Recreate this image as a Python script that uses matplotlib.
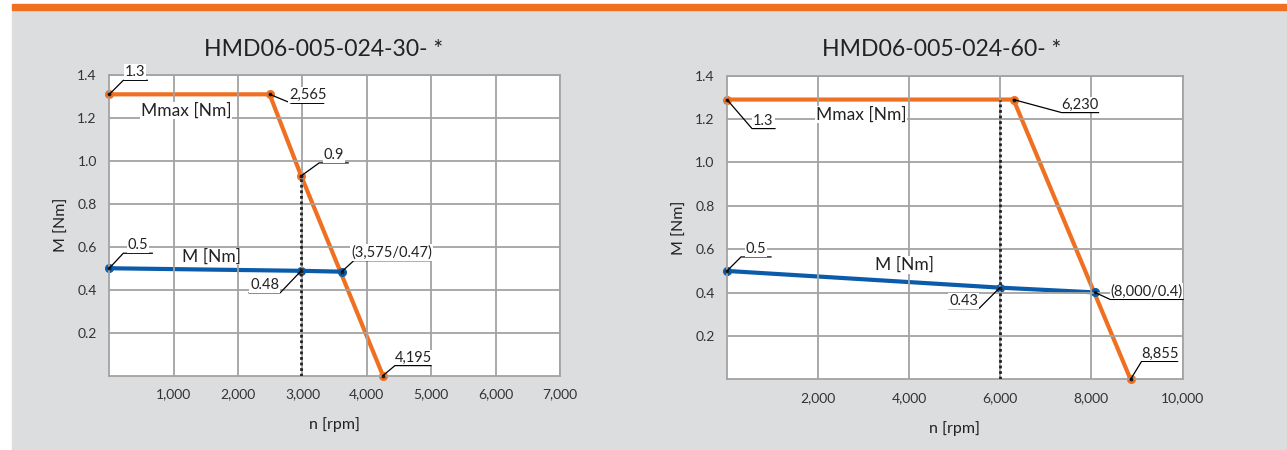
import matplotlib.pyplot as plt
import matplotlib.transforms as mtransforms
from matplotlib.lines import Line2D
from matplotlib.patches import Rectangle

plt.rcParams['font.family'] = ['Lato', 'DejaVu Sans']

# left chart: HMD06-005-024-30
title_l = "HMD06-005-024-30- *"
mmax_n_l = [0, 2490, 2980, 4250]
mmax_m_l = [1.31, 1.31, 0.93, 0.0]
m_n_l = [0, 2980, 3610]
m_m_l = [0.5, 0.488, 0.484]
xticks_l = [1000, 2000, 3000, 4000, 5000, 6000, 7000]
xtick_labels_l = ["1,000", "2,000", "3,000", "4,000", "5,000", "6,000", "7,000"]

# right chart: HMD06-005-024-60
title_r = "HMD06-005-024-60- *"
mmax_n_r = [0, 6290, 8860]
mmax_m_r = [1.29, 1.29, 0.0]
m_n_r = [0, 5990, 8080]
m_m_r = [0.5, 0.423, 0.401]
xticks_r = [2000, 4000, 6000, 8000, 10000]
xtick_labels_r = ["2,000", "4,000", "6,000", "8,000", "10,000"]

yticks = [0.2, 0.4, 0.6, 0.8, 1.0, 1.2, 1.4]
ytick_labels = ["0.2", "0.4", "0.6", "0.8", "1.0", "1.2", "1.4"]

ORANGE = '#f07022'
BLUE = '#0a5cab'
GRID = '#a3a3a3'
BG = '#dcdddf'

fig = plt.figure(figsize=(12.87, 4.5), dpi=100)
fig.patches.append(Rectangle((12 / 1287, 0), 1 - 12 / 1287, 440 / 450,
                             transform=fig.transFigure, color=BG, zorder=-10))
fig.patches.append(Rectangle((12 / 1287, 440 / 450), 1 - 12 / 1287, 6 / 450,
                             transform=fig.transFigure, color=ORANGE, zorder=-10))

ident = mtransforms.IdentityTransform()


def leader(ax, x, y, dx, dy, length, text):
    # leader line: point -> elbow -> horizontal underline, text on top
    px, py = ax.transData.transform((x, y))
    ex, ey = px + dx, py + dy
    fig.add_artist(Line2D([px, ex, ex + length], [py, ey, ey], transform=ident,
                          color='black', lw=0.9, zorder=6))
    fig.text(ex + length / 2, ey + 1, text, transform=ident, ha='center', va='bottom',
             fontsize=10.5, color='#222222', zorder=7,
             bbox=dict(facecolor='white', edgecolor='none', pad=0.6))


def setup(ax, xmax, xticks, xlabels, title, title_x):
    ax.set_xlim(0, xmax)
    ax.set_ylim(0, 1.4)
    ax.set_xticks(xticks)
    ax.set_xticklabels(xlabels)
    ax.set_yticks(yticks)
    ax.set_yticklabels(ytick_labels)
    ax.tick_params(length=0, labelsize=10, labelcolor='#333333', pad=9)
    ax.grid(True, color=GRID, lw=1.3, zorder=3)
    ax.set_axisbelow(False)
    for s in ax.spines.values():
        s.set_color(GRID)
        s.set_linewidth(1.3)
    ax.set_title(title, fontsize=16.6, color='#222222', pad=14, x=title_x)
    ax.set_xlabel("n [rpm]", fontsize=11.5, color='#222222', labelpad=12)
    ax.set_ylabel("M [Nm]", fontsize=11.5, color='#222222', labelpad=6)


def series(ax, n, m, color):
    ax.plot(n, m, color=color, lw=3, zorder=2, solid_capstyle='butt')
    ax.plot(n, m, 'o', color=color, ms=5.5, zorder=2, clip_on=False)
    ax.plot(n, m, 'o', color='#222222', ms=1.8, zorder=5, clip_on=False)


def series_label(ax, x, y, text):
    ax.text(x, y, text, ha='center', va='center', fontsize=12.5, color='#222222', zorder=6,
            bbox=dict(facecolor='white', edgecolor='none', pad=0.5))


# ---- left
axl = fig.add_axes([109.3 / 1287, 74.4 / 450, 450.7 / 1287, 300.6 / 450])
setup(axl, 7000, xticks_l, xtick_labels_l, title_l, 0.475)
axl.plot([mmax_n_l[2], mmax_n_l[2]], [0, mmax_m_l[2]], ls=(0, (1, 1)), color='#222222', lw=2, zorder=4)
series(axl, mmax_n_l, mmax_m_l, ORANGE)
series(axl, m_n_l, m_m_l, BLUE)
series_label(axl, 1190, 1.235, "Mmax [Nm]")
series_label(axl, 1590, 0.555, "M [Nm]")

leader(axl, mmax_n_l[0], mmax_m_l[0], 14, 14, 24, "1.3")
leader(axl, mmax_n_l[1], mmax_m_l[1], 22, -9, 32, "2,565")
leader(axl, mmax_n_l[2], mmax_m_l[2], 18, 13, 29, "0.9")
leader(axl, m_n_l[2], m_m_l[2], 12, 11, 76, "(3,575/0.47)")
leader(axl, m_n_l[1], m_m_l[1], -21, -22, -31, "0.48")
leader(axl, m_n_l[0], m_m_l[0], 14, 15, 29, "0.5")
leader(axl, mmax_n_l[3], mmax_m_l[3], 12, 10, 36, "4,195")

# ---- right
axr = fig.add_axes([727 / 1287, 70.6 / 450, 455.5 / 1287, 303.7 / 450])
setup(axr, 10000, xticks_r, xtick_labels_r, title_r, 0.472)
axr.plot([m_n_r[1], m_n_r[1]], [0, mmax_m_r[1]], ls=(0, (1, 1)), color='#222222', lw=2, zorder=4)
series(axr, mmax_n_r, mmax_m_r, ORANGE)
series(axr, m_n_r, m_m_r, BLUE)
series_label(axr, 2950, 1.222, "Mmax [Nm]")
series_label(axr, 3890, 0.527, "M [Nm]")

leader(axr, mmax_n_r[0], mmax_m_r[0], 25, -29, 23, "1.3")
leader(axr, mmax_n_r[1], mmax_m_r[1], 48, -13, 37, "6,230")
leader(axr, m_n_r[0], m_m_r[0], 14, 14, 30, "0.5")
leader(axr, m_n_r[1], m_m_r[1], -21, -21, -30, "0.43")
leader(axr, m_n_r[2], m_m_r[2], 15, -7, 73, "(8,000/0.4)")
leader(axr, mmax_n_r[2], mmax_m_r[2], 11, 18, 36, "8,855")

fig.savefig('out.png', dpi=100)
